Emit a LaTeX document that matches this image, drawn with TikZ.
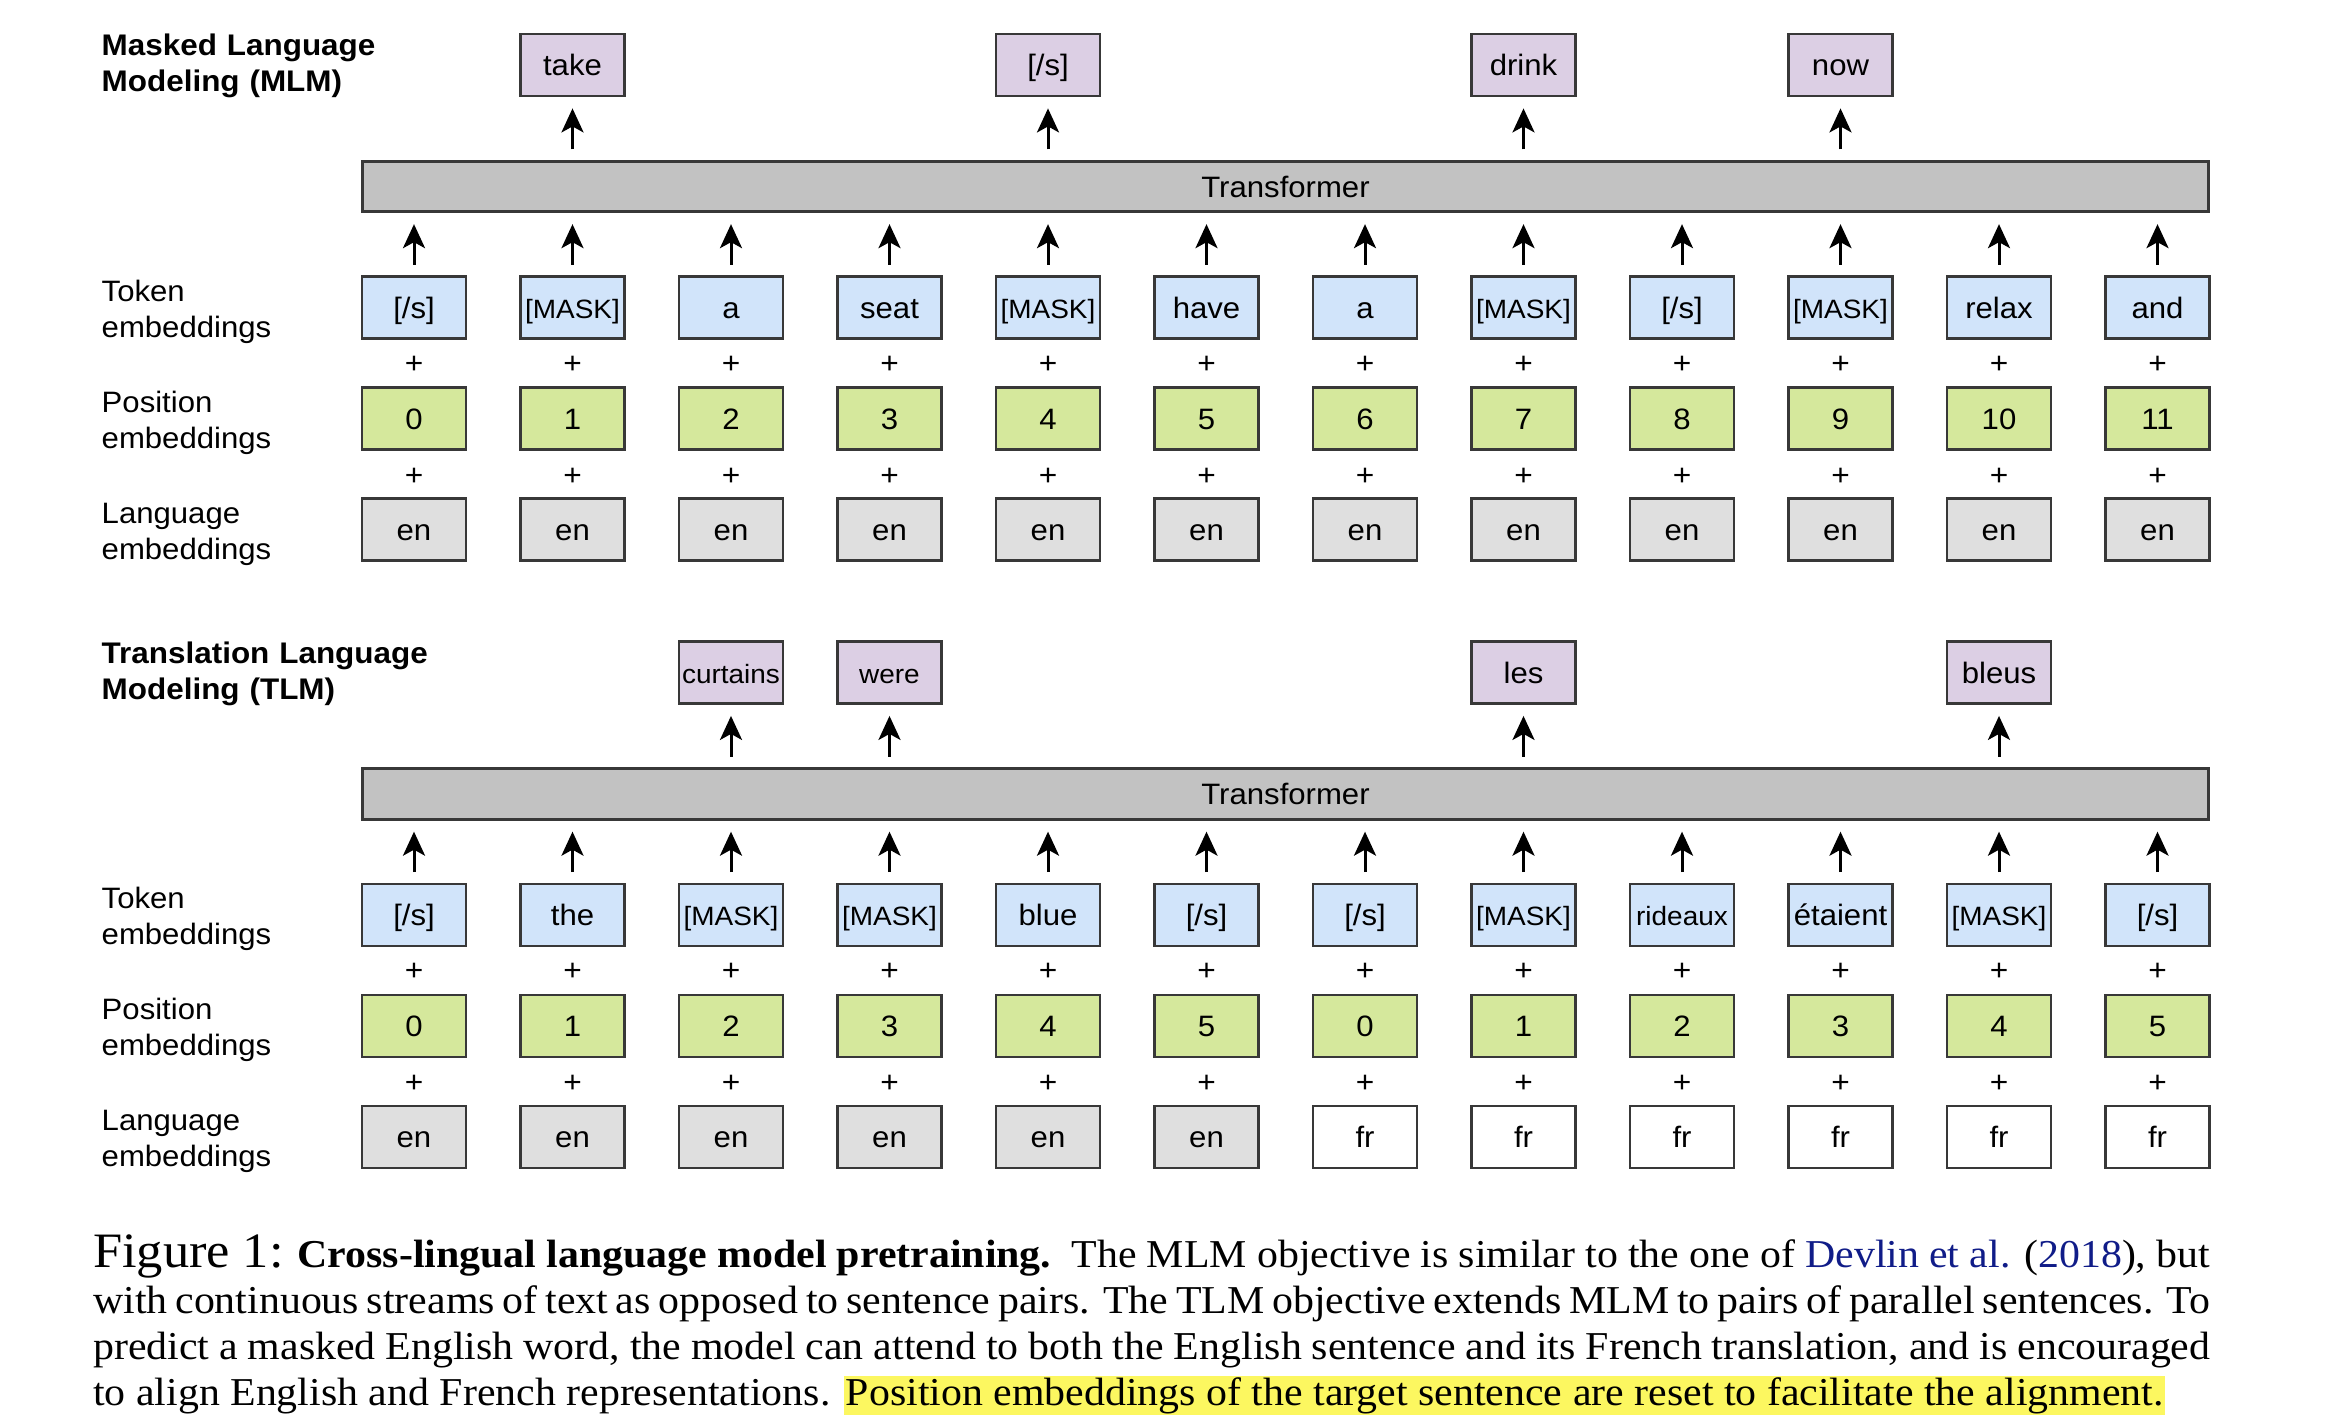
\documentclass[tikz,border=0pt]{standalone}
\usepackage{fontspec}
\setmainfont{Liberation Serif}
\newfontfamily\capfont[FakeStretch=1.06]{Liberation Serif}
\newfontfamily\diag[FakeStretch=1.055]{Liberation Sans}
\usetikzlibrary{arrows.meta}
\definecolor{outc}{HTML}{DCCFE4}
\definecolor{tokc}{HTML}{D1E4FA}
\definecolor{posc}{HTML}{D5E89C}
\definecolor{langc}{HTML}{DFDFDF}
\definecolor{trc}{HTML}{C2C2C2}
\definecolor{edgec}{HTML}{383838}
\definecolor{hlc}{HTML}{FCF760}
\definecolor{citec}{HTML}{101C88}
\tikzset{
  box/.style={draw=edgec, line width=2.8pt, minimum width=104pt, minimum height=62pt,
    inner sep=0pt, text height=21pt, text depth=0pt},
  nf/.style={font={\diag\fontsize{29.5}{36}\selectfont}},
  sf/.style={font={\diag\fontsize{26.5}{32}\selectfont}},
  plus/.style={inner sep=0pt, font={\diag\fontsize{30}{36}\selectfont}},
  lab/.style={inner sep=0pt, text width=330pt, align=left, font={\diag\fontsize{29.5}{36}\selectfont}},
  ttl/.style={inner sep=0pt, text width=400pt, align=left, font={\diag\bfseries\fontsize{29.8}{36.3}\selectfont}},
  arr/.style={line width=3pt, -{Stealth[length=24pt,width=22pt,inset=6pt]}},
  inarr/.style={arr, shorten <=10.5pt, shorten >=11pt},
}
\begin{document}
\begin{tikzpicture}[x=1pt, y=-1pt]
\useasboundingbox (0,0) rectangle (2330,1422);

% ---------------- MLM ----------------
\node[ttl, anchor=base west] (mttl) at (101.5,55.5) {Masked Language\\Modeling (MLM)};
\node[lab, anchor=base west] (mlt) at (101.5,301) {Token\\embeddings};
\node[lab, anchor=base west] (mlp) at (101.5,412) {Position\\embeddings};
\node[lab, anchor=base west] (mll) at (101.5,523) {Language\\embeddings};

\node[box, nf, fill=trc, minimum width=1846pt, minimum height=50.5pt] (mT) at (1285.5,186.5) {Transformer};

\foreach \i/\w/\f in {1/{[/s]}/nf, 2/{[MASK]}/sf, 3/a/nf, 4/seat/nf, 5/{[MASK]}/sf, 6/have/nf,
    7/a/nf, 8/{[MASK]}/sf, 9/{[/s]}/nf, 10/{[MASK]}/sf, 11/relax/nf, 12/and/nf} {
  \node[box, \f, fill=tokc] (mt\i) at ({414+158.5*(\i-1)},307.5) {\w};
  \node[plus] (mpa\i) at ({414+158.5*(\i-1)},364.5) {+};
  \pgfmathtruncatemacro{\p}{\i-1}
  \node[box, nf, fill=posc] (mp\i) at ({414+158.5*(\i-1)},418.5) {\p};
  \node[plus] (mpb\i) at ({414+158.5*(\i-1)},476.5) {+};
  \node[box, nf, fill=langc] (ml\i) at ({414+158.5*(\i-1)},529.5) {en};
  \draw[inarr] (mt\i.north) -- (mt\i.north |- mT.south);
}
\foreach \i/\w in {2/take, 5/{[/s]}, 8/drink, 10/now} {
  \node[box, nf, fill=outc] (mo\i) at ({414+158.5*(\i-1)},65) {\w};
  \draw[inarr] (mo\i.south |- mT.north) -- (mo\i.south);
}

% ---------------- TLM ----------------
\node[ttl, anchor=base west] (tttl) at (101.5,663) {Translation Language\\Modeling (TLM)};
\node[lab, anchor=base west] (tlt) at (101.5,908.5) {Token\\embeddings};
\node[lab, anchor=base west] (tlp) at (101.5,1019.5) {Position\\embeddings};
\node[lab, anchor=base west] (tll) at (101.5,1130.5) {Language\\embeddings};

\node[box, nf, fill=trc, minimum width=1846pt, minimum height=50.5pt] (tT) at (1285.5,794) {Transformer};

\foreach \i/\w/\f/\p/\lg/\lc in {1/{[/s]}/nf/0/en/langc, 2/the/nf/1/en/langc, 3/{[MASK]}/sf/2/en/langc,
    4/{[MASK]}/sf/3/en/langc, 5/blue/nf/4/en/langc, 6/{[/s]}/nf/5/en/langc,
    7/{[/s]}/nf/0/fr/white, 8/{[MASK]}/sf/1/fr/white, 9/rideaux/sf/2/fr/white,
    10/étaient/nf/3/fr/white, 11/{[MASK]}/sf/4/fr/white, 12/{[/s]}/nf/5/fr/white} {
  \node[box, \f, fill=tokc] (tt\i) at ({414+158.5*(\i-1)},915) {\w};
  \node[plus] (tpa\i) at ({414+158.5*(\i-1)},972) {+};
  \node[box, nf, fill=posc] (tp\i) at ({414+158.5*(\i-1)},1026) {\p};
  \node[plus] (tpb\i) at ({414+158.5*(\i-1)},1084) {+};
  \node[box, nf, fill=\lc] (tl\i) at ({414+158.5*(\i-1)},1137) {\lg};
  \draw[inarr] (tt\i.north) -- (tt\i.north |- tT.south);
}
\foreach \i/\w/\f in {3/curtains/sf, 4/were/sf, 8/les/nf, 11/bleus/nf} {
  \node[box, \f, fill=outc] (to\i) at ({414+158.5*(\i-1)},672.5) {\w};
  \draw[inarr] (to\i.south |- tT.north) -- (to\i.south);
}

% ---------------- caption ----------------
\node[anchor=base west, inner sep=0pt, text width=2117pt, align=justify,
      font=\capfont\fontsize{39.5}{46}\selectfont] (cap) at (93,1267)
{\tolerance=9999\hyphenpenalty=10000\setlength{\fboxsep}{1.5pt}%
{\fontsize{49.5}{46}\selectfont Figure 1:} \textbf{Cross-lingual language model pretraining.}\ \ The MLM objective is similar to the one of \textcolor{citec}{Devlin et al.} (\textcolor{citec}{2018}), but\linebreak
with continuous streams of text as opposed to sentence pairs. The TLM objective extends MLM to pairs of parallel sentences. To\linebreak
predict a masked English word, the model can attend to both the English sentence and its French translation, and is encouraged\linebreak
to align English and French representations. \colorbox{hlc}{Position embeddings of the target sentence are reset to facilitate the alignment.}};
\end{tikzpicture}
\end{document}
